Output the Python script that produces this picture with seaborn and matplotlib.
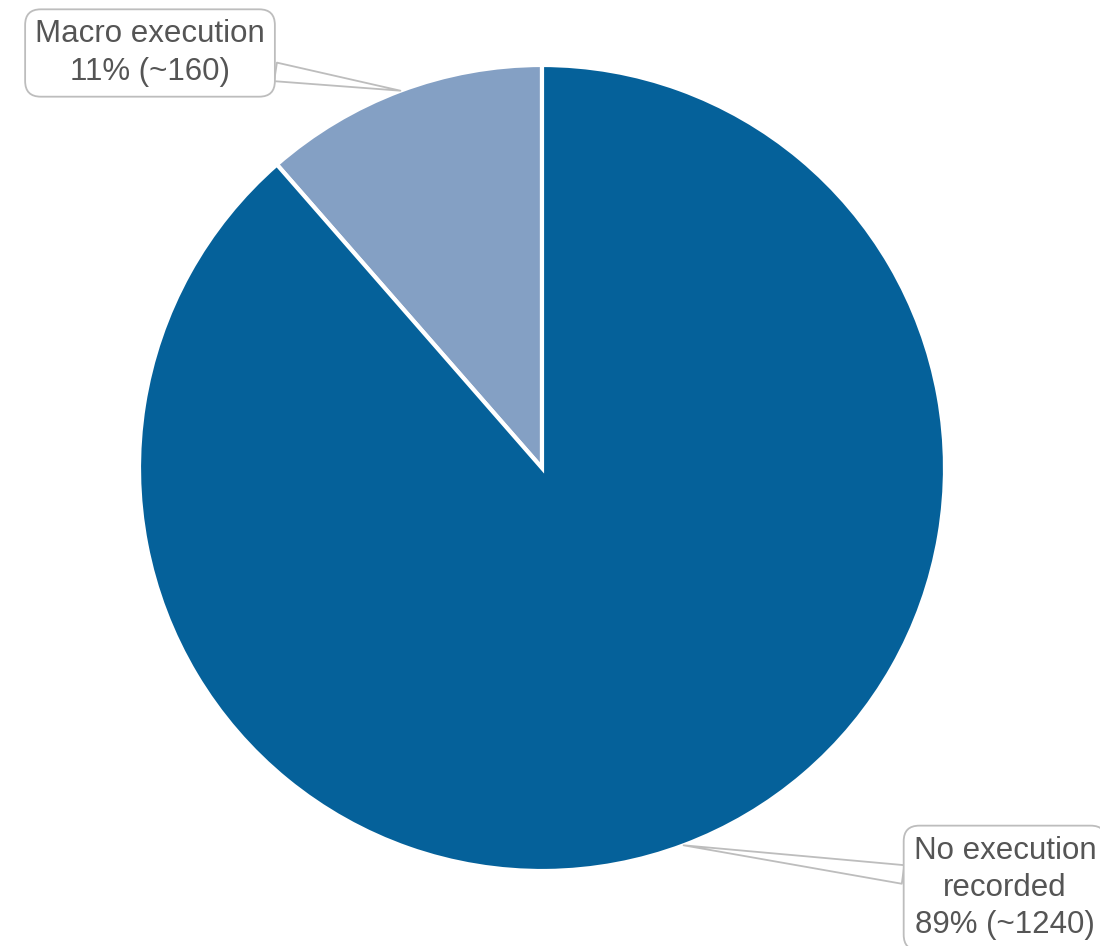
import numpy as np
import matplotlib
matplotlib.use("Agg")
import matplotlib.pyplot as plt
import seaborn as sns

# --- DATA ---
labels = ["Macro execution", "No execution\nrecorded"]
counts = [160, 1240]
pct_text = ["11% (~160)", "89% (~1240)"]
colors = ["#84a0c4", "#05619a"]

sns.set_theme(style="white")
plt.rcParams['font.family'] = ['Liberation Sans', 'DejaVu Sans']

fig = plt.figure(figsize=(11, 9.46), dpi=100)
# pie centre at (542, 468) px, radius ~403 px
W, H = 1100, 946
cx, cy, r = 542, 468, 403
ax = fig.add_axes([(cx - r) / W, (H - cy - r) / H, 2 * r / W, 2 * r / H])

wedges, _ = ax.pie(counts, colors=colors, startangle=90, counterclock=True,
                   wedgeprops=dict(edgecolor="white", linewidth=3))
ax.set_xlim(-1, 1)
ax.set_ylim(-1, 1)
ax.set_aspect("equal")
ax.axis("off")

# label positions (px in reference -> data coords)
text_px = [(150, 53), (1005, 888)]
for i, w in enumerate(wedges):
    mid = np.deg2rad((w.theta1 + w.theta2) / 2)
    tip = (np.cos(mid), np.sin(mid))
    tx = (text_px[i][0] - cx) / r
    ty = (cy - text_px[i][1]) / r
    ax.annotate(f"{labels[i]}\n{pct_text[i]}", xy=tip, xytext=(tx, ty),
                ha="center", va="center", fontsize=22.5, color="#555555",
                linespacing=1.32, annotation_clip=False,
                bbox=dict(boxstyle="round,pad=0.32,rounding_size=0.5",
                          fc="white", ec="#bdbdbd", lw=1.3),
                arrowprops=dict(arrowstyle="wedge,tail_width=0.6",
                                fc="white", ec="#bdbdbd", lw=1.3,
                                shrinkA=0, shrinkB=0))

fig.savefig("out.png", dpi=100)
